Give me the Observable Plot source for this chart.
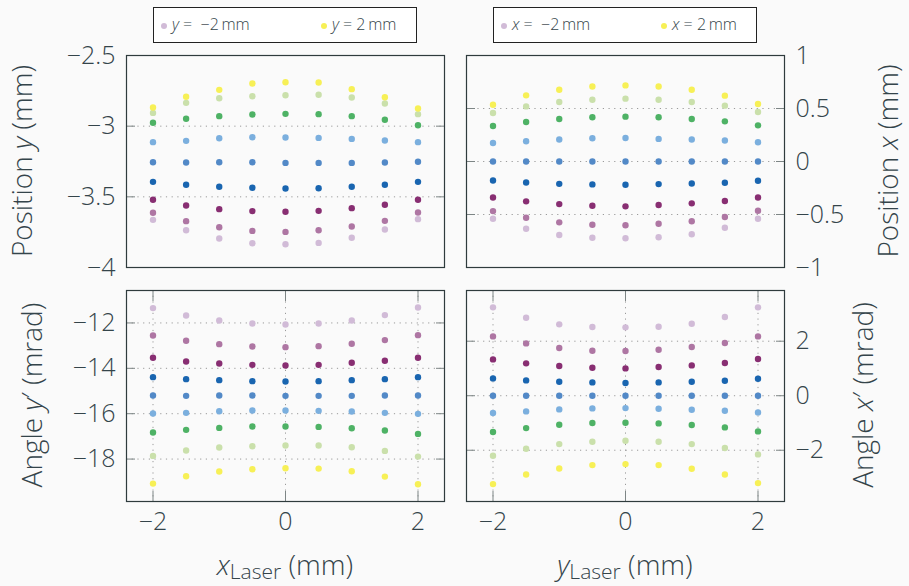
<!DOCTYPE html>
<html><head><meta charset="utf-8">
<script src="https://cdn.jsdelivr.net/npm/d3@7"></script>
<script src="https://cdn.jsdelivr.net/npm/@observablehq/plot@0.6"></script>
<style>
html,body{margin:0;padding:0;background:#fafafa;}
#chart{position:relative;width:909px;height:586px;background:#fafafa;font-family:"Open Sans",sans-serif;font-weight:300;color:#34444a;overflow:hidden}
.panel{position:absolute}
.ytitle{position:absolute;white-space:nowrap;font-size:28px;line-height:1;transform:translate(-50%,-50%) rotate(-90deg)}
.xtitle{position:absolute;white-space:nowrap;font-size:28px;line-height:1;transform:translateX(-50%)}
.legend{position:absolute;background:#fff;border:1px solid #222;box-sizing:border-box;height:36px;width:264px;font-size:16px;line-height:1}
.legend .mk{position:absolute;width:6px;height:6px;border-radius:50%;top:15px}
.legend .lt{position:absolute;top:8px;white-space:nowrap}
</style></head>
<body>
<div id="chart"></div>
<script>
// ---- data ----
const laserPositions = [-2, -1.5, -1, -0.5, 0, 0.5, 1, 1.5, 2];
const seriesValues = [-2, -1.5, -1, -0.5, 0, 0.5, 1, 1.5, 2];
const palette = ["#D1BBD7", "#AE76A3", "#882E72", "#1965B0", "#5289C7", "#7BAFDE", "#4EB265", "#CAE0AB", "#F7F056"];

// Position y (mm) vs x_Laser, one row per series y = -2 ... 2 mm
const positionY = [
  [-3.663, -3.736, -3.795, -3.828, -3.835, -3.826, -3.790, -3.731, -3.658],
  [-3.613, -3.672, -3.715, -3.741, -3.748, -3.736, -3.710, -3.670, -3.611],
  [-3.521, -3.561, -3.587, -3.601, -3.606, -3.599, -3.580, -3.556, -3.521],
  [-3.394, -3.415, -3.429, -3.436, -3.441, -3.439, -3.429, -3.415, -3.394],
  [-3.255, -3.257, -3.255, -3.255, -3.260, -3.260, -3.260, -3.257, -3.252],
  [-3.113, -3.104, -3.085, -3.078, -3.080, -3.083, -3.090, -3.101, -3.113],
  [-2.976, -2.948, -2.929, -2.917, -2.913, -2.915, -2.929, -2.955, -2.993],
  [-2.906, -2.835, -2.802, -2.788, -2.781, -2.778, -2.797, -2.840, -2.915],
  [-2.868, -2.792, -2.743, -2.698, -2.689, -2.691, -2.738, -2.795, -2.875]
];
// Position x (mm) vs y_Laser, one row per series x = -2 ... 2 mm
const positionX = [
  [-0.540, -0.634, -0.693, -0.719, -0.724, -0.715, -0.687, -0.625, -0.540],
  [-0.468, -0.531, -0.574, -0.596, -0.602, -0.587, -0.564, -0.524, -0.465],
  [-0.339, -0.376, -0.402, -0.418, -0.423, -0.411, -0.395, -0.373, -0.339],
  [-0.179, -0.198, -0.211, -0.216, -0.220, -0.213, -0.207, -0.201, -0.182],
  [0, 0, 0, 0, 0, 0, 0, 0, 0],
  [0.175, 0.191, 0.207, 0.219, 0.222, 0.213, 0.207, 0.198, 0.182],
  [0.335, 0.373, 0.401, 0.417, 0.423, 0.417, 0.401, 0.379, 0.341],
  [0.457, 0.520, 0.561, 0.583, 0.593, 0.583, 0.561, 0.527, 0.467],
  [0.536, 0.624, 0.677, 0.708, 0.718, 0.708, 0.677, 0.621, 0.542]
];
// Angle y' (mrad) vs x_Laser
const angleY = [
  [-11.346, -11.669, -11.890, -12.022, -12.066, -12.022, -11.890, -11.654, -11.316],
  [-12.551, -12.787, -12.934, -13.037, -13.066, -13.022, -12.919, -12.757, -12.537],
  [-13.537, -13.699, -13.787, -13.846, -13.875, -13.846, -13.757, -13.669, -13.537],
  [-14.390, -14.478, -14.522, -14.566, -14.581, -14.566, -14.522, -14.478, -14.390],
  [-15.199, -15.213, -15.199, -15.199, -15.213, -15.213, -15.213, -15.199, -15.199],
  [-15.993, -15.963, -15.890, -15.860, -15.860, -15.875, -15.904, -15.963, -16.007],
  [-16.831, -16.713, -16.625, -16.566, -16.566, -16.581, -16.640, -16.743, -16.890],
  [-17.860, -17.625, -17.493, -17.434, -17.404, -17.404, -17.478, -17.640, -17.890],
  [-19.081, -18.757, -18.551, -18.449, -18.404, -18.419, -18.537, -18.772, -19.110]
];
// Angle x' (mrad) vs y_Laser
const angleX = [
  [3.242, 2.862, 2.618, 2.520, 2.508, 2.532, 2.642, 2.887, 3.242],
  [2.177, 1.920, 1.749, 1.651, 1.639, 1.688, 1.786, 1.933, 2.177],
  [1.333, 1.187, 1.089, 1.028, 1.003, 1.052, 1.113, 1.199, 1.346],
  [0.636, 0.563, 0.514, 0.489, 0.465, 0.489, 0.514, 0.550, 0.624],
  [0, 0, 0, 0, 0, 0, 0, 0, 0],
  [-0.636, -0.575, -0.502, -0.465, -0.453, -0.477, -0.514, -0.550, -0.612],
  [-1.333, -1.187, -1.064, -1.003, -0.991, -1.015, -1.076, -1.162, -1.309],
  [-2.202, -1.945, -1.774, -1.688, -1.651, -1.688, -1.774, -1.920, -2.153],
  [-3.242, -2.887, -2.667, -2.544, -2.508, -2.544, -2.679, -2.887, -3.205]
];

const xTicks = [-2, 0, 2];
const posYTicks = [-4, -3.5, -3, -2.5];
const posXTicks = [-1, -0.5, 0, 0.5, 1];
const angYTicks = [-18, -16, -14, -12];
const angXTicks = [-2, 0, 2];

// ---- drawing ----
const fmt = d => String(d).replace("-", "\u2212");
const textColor = "#34444a";
const tickColor = "#7d8585";

function panel({values, yDomain, yTicks, side, bottom, left, top, width, height, margin}) {
  const rows = [];
  seriesValues.forEach((s, si) => laserPositions.forEach((p, pi) => rows.push({pos: p, series: s, value: values[si][pi]})));
  const inner = yTicks.filter(t => t > yDomain[0] && t < yDomain[1]);
  const marks = [
    Plot.gridY(inner, {stroke: "#9a9a9a", strokeOpacity: 1, strokeDasharray: "1.2,4.5"})
  ];
  if (bottom) marks.push(Plot.gridX(xTicks, {stroke: "#9a9a9a", strokeOpacity: 1, strokeDasharray: "1.2,4.5"}));
  marks.push(
    Plot.axisY(inner, {anchor: "left", tickSize: 9, dx: 9, tickFormat: () => "", label: null, stroke: tickColor}),
    Plot.axisY(inner, {anchor: "right", tickSize: 9, dx: -9, tickFormat: () => "", label: null, stroke: tickColor}),
    Plot.axisY(yTicks, {anchor: side, tickSize: 0, tickPadding: 11, tickFormat: fmt, label: null, fill: textColor})
  );
  if (bottom) marks.push(
    Plot.axisX(xTicks, {anchor: "bottom", tickSize: 10, dy: -10, tickFormat: () => "", label: null, stroke: tickColor}),
    Plot.axisX(xTicks, {anchor: "top", tickSize: 10, dy: 10, tickFormat: () => "", label: null, stroke: tickColor}),
    Plot.axisX(xTicks, {anchor: "bottom", tickSize: 0, tickPadding: 11, tickFormat: fmt, label: null, fill: textColor})
  );
  marks.push(
    Plot.frame({stroke: "#2f3b3d", strokeWidth: 1.2}),
    Plot.dot(rows, {x: "pos", y: "value", fill: "series", r: 3.2})
  );
  const svg = Plot.plot({
    width, height,
    marginTop: margin[0], marginRight: margin[1], marginBottom: margin[2], marginLeft: margin[3],
    x: {domain: [-2.4, 2.4], axis: bottom ? undefined : null},
    y: {domain: yDomain},
    color: {type: "ordinal", domain: seriesValues, range: palette},
    style: {background: "transparent", fontSize: "25px", fontFamily: "'Open Sans', sans-serif", fontWeight: 300, color: textColor, overflow: "visible"},
    marks
  });
  svg.classList.add("panel");
  svg.style.left = left + "px";
  svg.style.top = top + "px";
  return svg;
}

const chart = document.getElementById("chart");
chart.append(
  panel({values: positionY, yDomain: [-4, -2.5], yTicks: posYTicks, side: "left", bottom: false, left: 0, top: 40, width: 455, height: 240, margin: [15, 11, 13, 126]}),
  panel({values: positionX, yDomain: [-1, 1], yTicks: posXTicks, side: "right", bottom: false, left: 455, top: 40, width: 454, height: 240, margin: [15, 125, 13, 11]}),
  panel({values: angleY, yDomain: [-19.87, -10.57], yTicks: angYTicks, side: "left", bottom: true, left: 0, top: 280, width: 455, height: 270, margin: [10, 11, 49, 126]}),
  panel({values: angleX, yDomain: [-3.88, 3.86], yTicks: angXTicks, side: "right", bottom: true, left: 455, top: 280, width: 454, height: 270, margin: [10, 125, 49, 11]})
);

function addHTML(html) {
  const t = document.createElement("template");
  t.innerHTML = html.trim();
  chart.append(t.content.firstChild);
}
// axis titles
addHTML(`<div class="ytitle" style="left:21px;top:161px">Position <i>y</i> (mm)</div>`);
addHTML(`<div class="ytitle" style="left:31px;top:395px">Angle <i>y</i>′ (mrad)</div>`);
addHTML(`<div class="ytitle" style="left:887px;top:161px">Position <i>x</i> (mm)</div>`);
addHTML(`<div class="ytitle" style="left:862px;top:395px">Angle <i>x</i>′ (mrad)</div>`);
addHTML(`<div class="xtitle" style="left:285px;top:550px"><i>x</i><span style="font-size:0.75em;position:relative;top:0.2em">Laser</span> (mm)</div>`);
addHTML(`<div class="xtitle" style="left:625px;top:550px"><i>y</i><span style="font-size:0.75em;position:relative;top:0.2em">Laser</span> (mm)</div>`);

// legends
function legend(left, v) {
  const first = seriesValues[0], last = seriesValues[seriesValues.length - 1];
  addHTML(`<div class="legend" style="left:${left}px;top:7px">
    <div class="mk" style="left:7px;background:${palette[0]}"></div>
    <div class="lt" style="left:18px"><i>${v}</i>&nbsp;=&nbsp;&nbsp;${fmt(first)}&thinsp;mm</div>
    <div class="mk" style="left:167px;background:${palette[palette.length - 1]}"></div>
    <div class="lt" style="left:178px"><i>${v}</i>&nbsp;=&nbsp;${fmt(last)}&thinsp;mm</div>
  </div>`);
}
legend(153, "y");
legend(493, "x");
</script>
</body></html>
